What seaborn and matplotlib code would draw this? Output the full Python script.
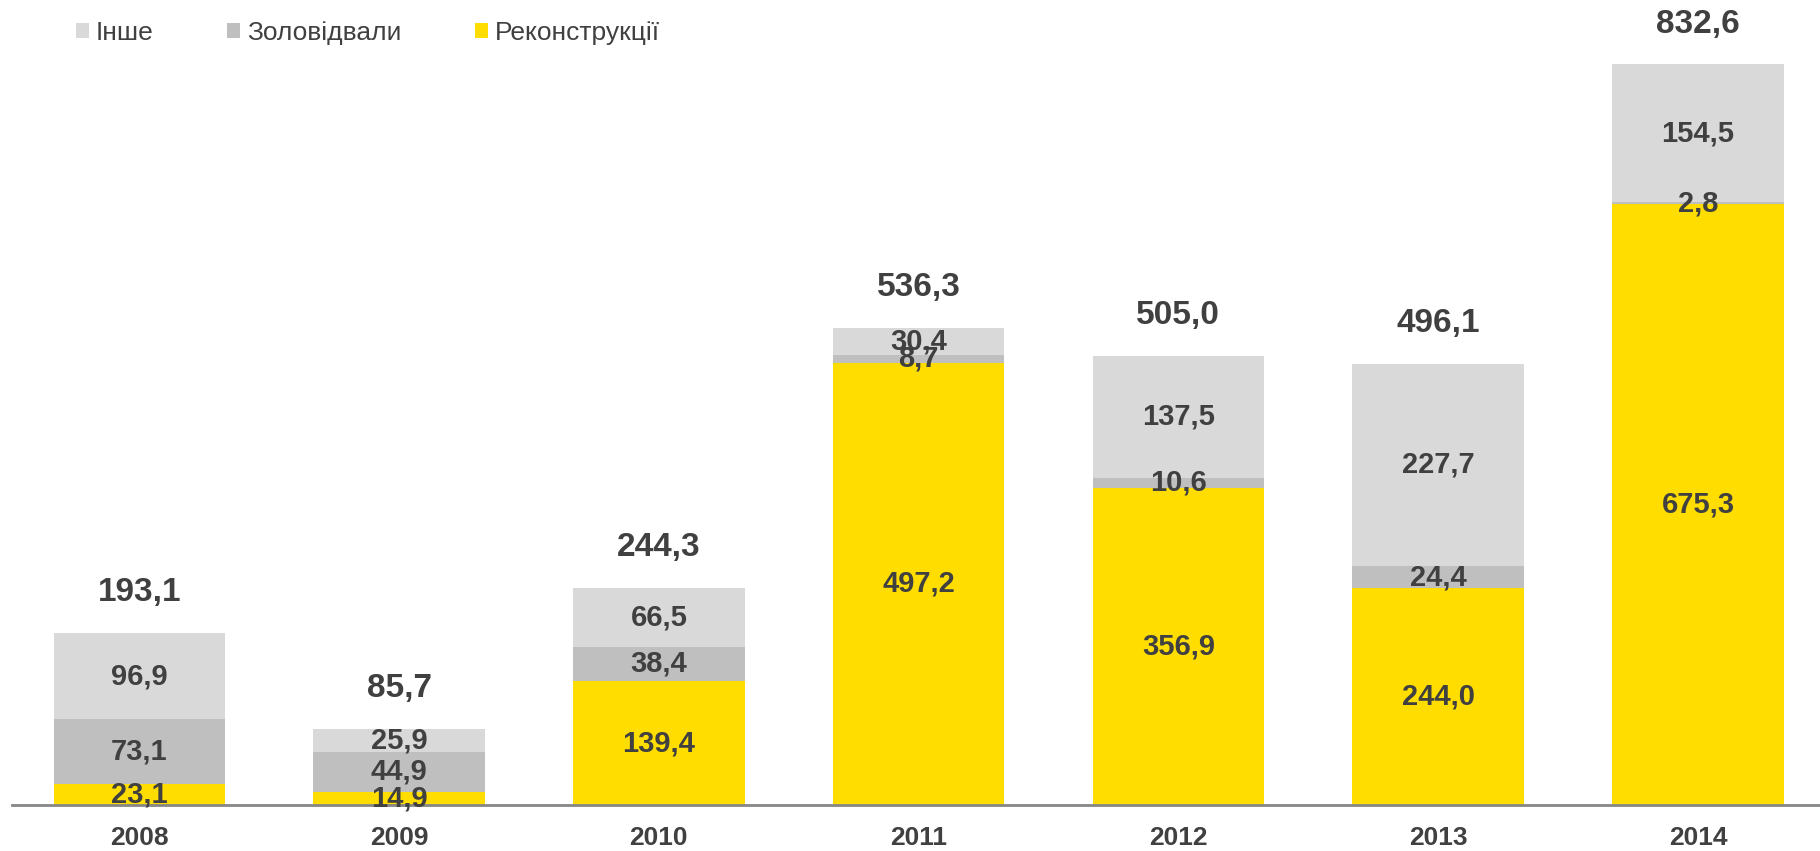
import matplotlib
matplotlib.use("Agg")
import matplotlib.pyplot as plt
from matplotlib.patches import Patch
import seaborn as sns
import numpy as np
import pandas as pd

years = ["2008", "2009", "2010", "2011", "2012", "2013", "2014"]
reconstr = [23.1, 14.9, 139.4, 497.2, 356.9, 244.0, 675.3]
ash = [73.1, 44.9, 38.4, 8.7, 10.6, 24.4, 2.8]
other = [96.9, 25.9, 66.5, 30.4, 137.5, 227.7, 154.5]
totals = [193.1, 85.7, 244.3, 536.3, 505.0, 496.1, 832.6]

series_names = ["Інше", "Золовідвали", "Реконструкції"]
colors = {"Інше": "#D9D9D9", "Золовідвали": "#BFBFBF", "Реконструкції": "#FFDD00"}
txt = "#404040"

sns.set_theme(style="white")
plt.rcParams['font.family'] = ['Liberation Sans', 'DejaVu Sans']

df = pd.DataFrame({"year": years, "Реконструкції": reconstr,
                   "Золовідвали": ash, "Інше": other})

fig = plt.figure(figsize=(18.2, 8.51), dpi=100)
ax = fig.add_axes([12 / 1820, 1 - 805 / 851, 1 - 12 / 1820, 805 / 851])

bottom = np.zeros(len(years))
for name in ["Реконструкції", "Золовідвали", "Інше"]:
    vals = df[name].to_numpy()
    sns.barplot(x=df["year"], y=vals, bottom=bottom, color=colors[name],
                width=0.66, ax=ax, saturation=1, linewidth=0)
    for i, v in enumerate(vals):
        ax.text(i, bottom[i] + v / 2, f"{v:.1f}".replace(".", ","),
                ha="center", va="center", fontsize=21, fontweight="bold", color=txt)
    bottom = bottom + vals

for i, t in enumerate(totals):
    ax.annotate(f"{t:.1f}".replace(".", ","), (i, bottom[i]), xytext=(0, 29),
                textcoords="offset points", ha="center", va="center",
                fontsize=24, fontweight="bold", color=txt)

ax.set_xlim(-0.49, 6.47)
ax.set_ylim(0, 905)
for s in ["top", "right", "left"]:
    ax.spines[s].set_visible(False)
ax.spines["bottom"].set_color("#868686")
ax.spines["bottom"].set_linewidth(2)
ax.set_yticks([])
ax.set_xlabel("")
ax.set_ylabel("")
ax.tick_params(axis="x", length=0, pad=15)
for lab in ax.get_xticklabels():
    lab.set_fontsize(19)
    lab.set_fontweight("bold")
    lab.set_color(txt)

handles = [Patch(facecolor=colors[n], edgecolor="none", label=n) for n in series_names]
leg = fig.legend(handles=handles, loc="center left", bbox_to_anchor=(52 / 1820, 1 - 33 / 851),
                 ncol=3, frameon=False, fontsize=19, handlelength=0.5, handleheight=0.5,
                 handletextpad=0.25, columnspacing=2.8, labelcolor=txt)

fig.savefig("out.png", dpi=100)
